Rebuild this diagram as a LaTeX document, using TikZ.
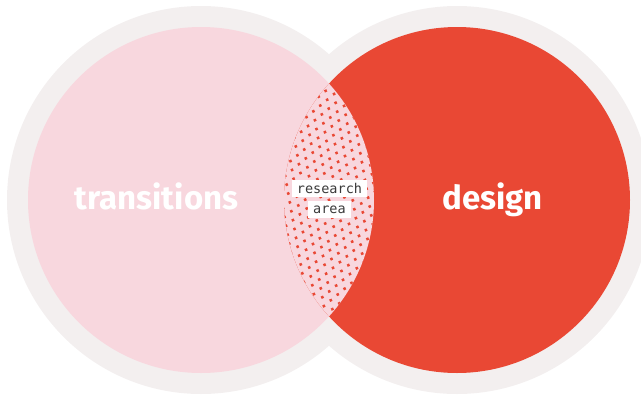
\documentclass[tikz,border=0pt]{standalone}
\usepackage{fontspec}
\setmainfont{Fira Sans}
\newfontfamily\labelmono{DejaVu Sans Mono}
\definecolor{ringgray}{HTML}{F3EFEF}
\definecolor{softpink}{HTML}{F8D7DE}
\definecolor{brightred}{HTML}{E94834}
\definecolor{labelink}{HTML}{3A3A3A}
\tikzset{
  bigword/.style={text=white, font=\fontsize{33}{35}\selectfont\bfseries, anchor=base, inner sep=0pt},
  monotag/.style={fill=white, text=labelink, font=\labelmono\fontsize{13.5}{14}\selectfont, inner xsep=5pt, inner ysep=0pt, minimum height=17pt},
}
\begin{document}
\begin{tikzpicture}[x=1pt,y=-1pt]
\useasboundingbox (0,0) rectangle (641,397);
\coordinate (cl) at (201,200);
\coordinate (cr) at (457,200);
% outer rings
\fill[ringgray] (cl) circle[radius=194pt];
\fill[ringgray] (cr) circle[radius=194pt];
% main discs
\fill[softpink] (cl) circle[radius=173pt];
\fill[brightred] (cr) circle[radius=173pt];
% lens with dot pattern
\begin{scope}
  \clip (cl) circle[radius=173pt];
  \clip (cr) circle[radius=173pt];
  \fill[softpink] (280,70) rectangle (380,330);
  \begin{scope}[shift={(329,200)}, rotate=-20]
    \foreach \j in {-20,...,20}{
      \foreach \i in {-9,...,9}{
        \pgfmathsetmacro{\xx}{(\i+0.5*mod(abs(\j),2))*9}
        \fill[brightred] (\xx,\j*7.8) circle[radius=1.8pt];
      }
    }
  \end{scope}
\end{scope}
% labels
\node[bigword] (trans) at (156.5,209) {transitions};
\node[bigword] (des) at (492.5,209) {design};
\node[monotag] (res) at (329.5,188.5) {research};
\node[monotag] (area) at (329.5,209.5) {area};
\end{tikzpicture}
\end{document}
